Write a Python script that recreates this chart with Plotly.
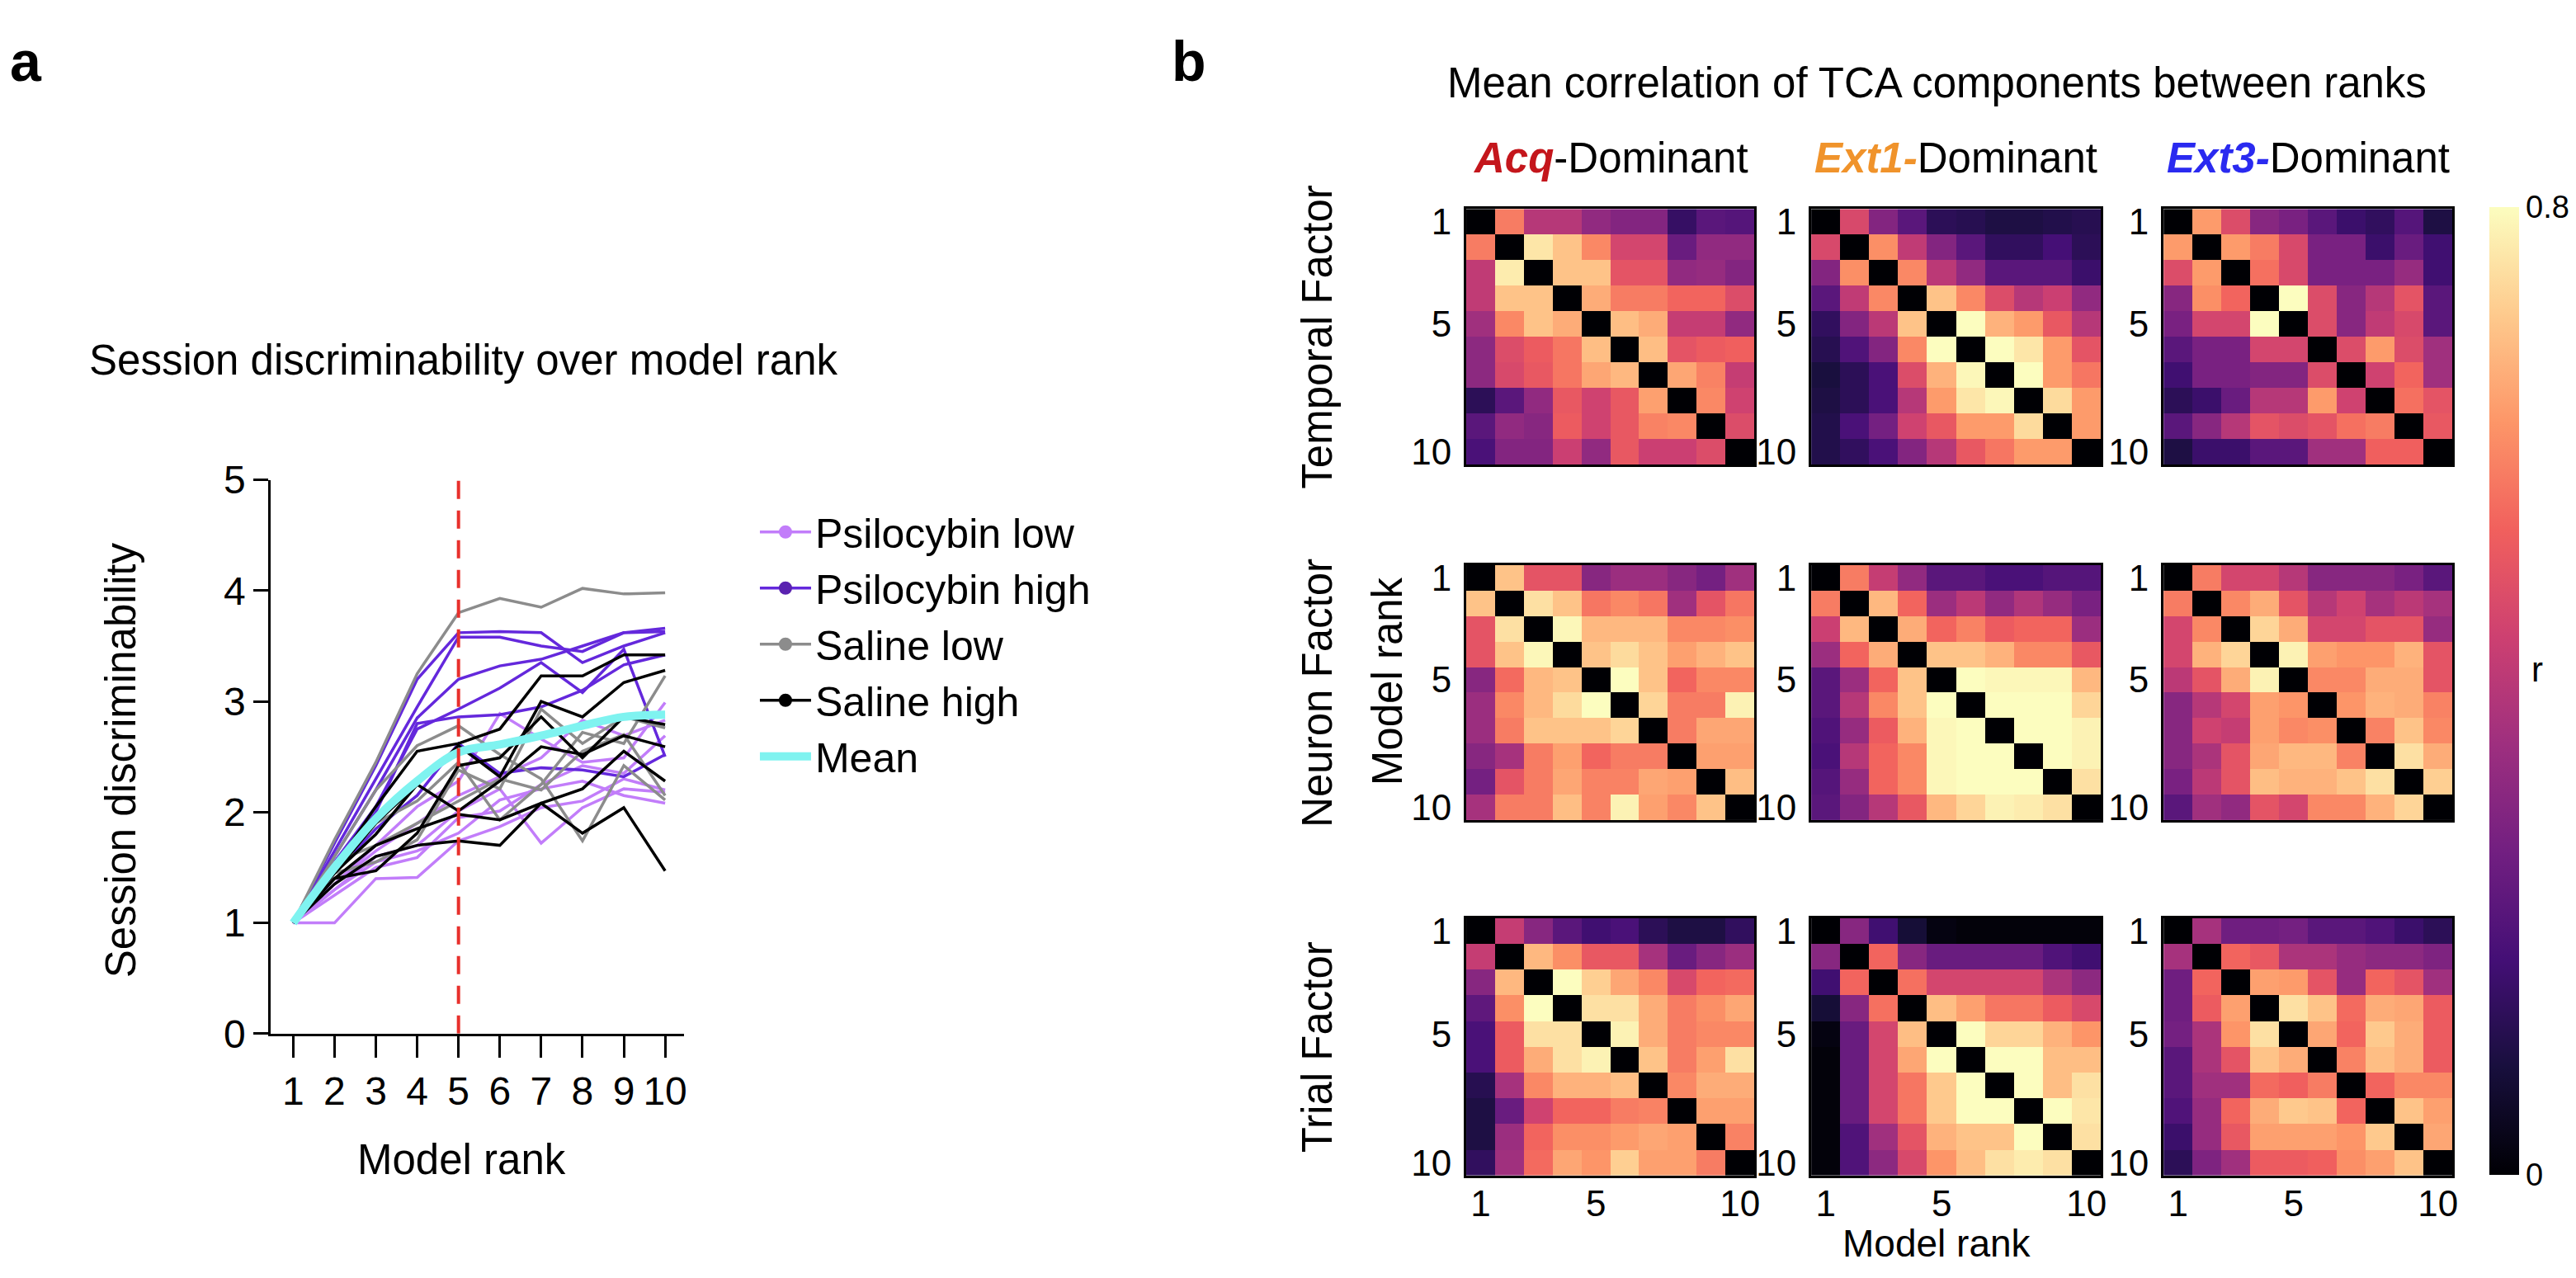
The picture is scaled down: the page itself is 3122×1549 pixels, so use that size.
import plotly.graph_objects as go

W, H = 3122, 1549
FONT = "Liberation Sans, Arial, sans-serif"

# ---------------- Panel a data ----------------
ranks = [1, 2, 3, 4, 5, 6, 7, 8, 9, 10]
cutoff_rank = 5

psilocybin_low = [
    [1, 1.00, 1.40, 1.41, 1.74, 1.87, 2.04, 2.10, 2.30, 2.20],
    [1, 1.30, 1.60, 1.70, 2.01, 2.21, 1.72, 2.04, 2.21, 2.18],
    [1, 1.35, 1.70, 2.05, 2.28, 2.89, 2.66, 2.45, 2.49, 2.99],
    [1, 1.30, 1.55, 1.65, 1.81, 2.11, 2.21, 2.28, 2.15, 2.08],
    [1, 1.25, 1.50, 1.59, 1.95, 2.01, 2.25, 2.42, 2.35, 2.69],
    [1, 1.35, 1.65, 1.90, 2.15, 2.32, 2.49, 2.83, 2.69, 2.83],
]
psilocybin_high = [
    [1, 1.72, 2.42, 3.20, 3.62, 3.63, 3.62, 3.35, 3.50, 3.62],
    [1, 1.65, 2.30, 2.95, 3.58, 3.58, 3.50, 3.45, 3.62, 3.66],
    [1, 1.60, 2.20, 2.85, 3.20, 3.32, 3.38, 3.50, 3.62, 3.63],
    [1, 1.55, 2.05, 2.75, 2.93, 3.12, 3.35, 3.08, 3.47, 2.50],
    [1, 1.50, 2.00, 2.80, 2.86, 2.88, 2.95, 3.10, 3.33, 3.42],
    [1, 1.45, 1.85, 2.15, 2.62, 2.35, 2.40, 2.38, 2.32, 2.52],
]
saline_low = [
    [1, 1.75, 2.45, 3.25, 3.80, 3.93, 3.85, 4.02, 3.97, 3.98],
    [1, 1.60, 2.20, 2.60, 2.78, 2.52, 2.30, 1.74, 2.42, 2.11],
    [1, 1.50, 1.90, 2.10, 2.45, 1.93, 2.25, 2.72, 2.62, 3.23],
    [1, 1.45, 1.55, 1.75, 2.38, 2.21, 2.93, 2.62, 2.86, 2.76],
    [1, 1.55, 1.70, 1.90, 2.10, 2.30, 2.20, 2.55, 2.70, 2.15],
]
saline_high = [
    [1, 1.50, 2.05, 2.55, 2.62, 2.75, 3.23, 3.23, 3.42, 3.42],
    [1, 1.45, 1.90, 2.25, 2.60, 2.32, 3.00, 2.86, 3.17, 3.28],
    [1, 1.40, 1.70, 1.85, 1.98, 1.93, 2.08, 1.81, 2.04, 1.47],
    [1, 1.35, 1.60, 1.70, 1.74, 1.70, 2.08, 2.21, 2.55, 2.28],
    [1, 1.45, 1.80, 2.25, 2.01, 2.28, 2.59, 2.52, 2.69, 2.59],
    [1, 1.40, 1.47, 1.81, 2.42, 2.49, 2.86, 2.49, 2.86, 2.79],
]
mean_curve = [1.00, 1.50, 1.94, 2.28, 2.54, 2.61, 2.69, 2.78, 2.86, 2.88]

group_names = ["Psilocybin low", "Psilocybin high", "Saline low", "Saline high"]
group_line_colors = ["#c27dfa", "#6428dc", "#8c8c8c", "#000000"]
group_marker_colors = ["#c27dfa", "#5a22b0", "#8c8c8c", "#000000"]
group_series = [psilocybin_low, psilocybin_high, saline_low, saline_high]
y_ticks_a = [0, 1, 2, 3, 4, 5]

# ---------------- Panel b data ----------------
factor_names = ["Temporal Factor", "Neuron Factor", "Trial Factor"]
condition_names = ["Acq", "Ext1", "Ext3"]
heat_ticks = [1, 5, 10]

temporal_acq = [
    [0.00, 0.58, 0.40, 0.40, 0.33, 0.30, 0.30, 0.15, 0.22, 0.21],
    [0.58, 0.00, 0.76, 0.70, 0.60, 0.46, 0.46, 0.25, 0.33, 0.33],
    [0.42, 0.77, 0.00, 0.70, 0.70, 0.50, 0.50, 0.33, 0.34, 0.30],
    [0.42, 0.70, 0.70, 0.00, 0.66, 0.58, 0.58, 0.54, 0.54, 0.48],
    [0.36, 0.60, 0.70, 0.66, 0.00, 0.69, 0.66, 0.43, 0.43, 0.33],
    [0.32, 0.48, 0.52, 0.57, 0.69, 0.00, 0.69, 0.50, 0.52, 0.53],
    [0.32, 0.47, 0.51, 0.57, 0.65, 0.68, 0.00, 0.65, 0.59, 0.43],
    [0.13, 0.22, 0.33, 0.51, 0.45, 0.51, 0.64, 0.00, 0.60, 0.45],
    [0.22, 0.33, 0.31, 0.52, 0.45, 0.51, 0.59, 0.60, 0.00, 0.48],
    [0.19, 0.30, 0.30, 0.44, 0.33, 0.51, 0.44, 0.44, 0.48, 0.00],
]
temporal_ext1 = [
    [0.00, 0.47, 0.30, 0.22, 0.13, 0.12, 0.10, 0.10, 0.11, 0.12],
    [0.47, 0.00, 0.61, 0.42, 0.30, 0.22, 0.14, 0.14, 0.18, 0.13],
    [0.30, 0.61, 0.00, 0.60, 0.41, 0.33, 0.22, 0.22, 0.22, 0.16],
    [0.22, 0.42, 0.60, 0.00, 0.70, 0.60, 0.48, 0.40, 0.44, 0.33],
    [0.14, 0.30, 0.41, 0.70, 0.00, 0.80, 0.67, 0.63, 0.51, 0.40],
    [0.12, 0.20, 0.30, 0.60, 0.80, 0.00, 0.80, 0.76, 0.63, 0.50],
    [0.09, 0.13, 0.19, 0.48, 0.67, 0.79, 0.00, 0.80, 0.63, 0.57],
    [0.10, 0.13, 0.19, 0.40, 0.63, 0.76, 0.79, 0.00, 0.74, 0.63],
    [0.11, 0.19, 0.27, 0.45, 0.51, 0.63, 0.63, 0.74, 0.00, 0.63],
    [0.11, 0.14, 0.19, 0.30, 0.40, 0.51, 0.57, 0.63, 0.63, 0.00],
]
temporal_ext3 = [
    [0.00, 0.63, 0.48, 0.31, 0.28, 0.22, 0.16, 0.14, 0.21, 0.10],
    [0.63, 0.00, 0.63, 0.58, 0.47, 0.28, 0.28, 0.16, 0.25, 0.17],
    [0.48, 0.63, 0.00, 0.56, 0.47, 0.28, 0.28, 0.28, 0.34, 0.17],
    [0.31, 0.61, 0.54, 0.00, 0.80, 0.48, 0.31, 0.40, 0.50, 0.22],
    [0.28, 0.46, 0.46, 0.80, 0.00, 0.48, 0.31, 0.42, 0.47, 0.22],
    [0.22, 0.28, 0.28, 0.46, 0.46, 0.00, 0.48, 0.63, 0.48, 0.36],
    [0.17, 0.28, 0.28, 0.30, 0.30, 0.48, 0.00, 0.45, 0.54, 0.36],
    [0.13, 0.16, 0.25, 0.40, 0.40, 0.63, 0.45, 0.00, 0.56, 0.50],
    [0.22, 0.31, 0.40, 0.50, 0.48, 0.50, 0.56, 0.58, 0.00, 0.51],
    [0.10, 0.16, 0.16, 0.22, 0.22, 0.36, 0.36, 0.53, 0.53, 0.00],
]
neuron_acq = [
    [0.00, 0.70, 0.50, 0.50, 0.31, 0.35, 0.35, 0.31, 0.27, 0.36],
    [0.70, 0.00, 0.75, 0.70, 0.57, 0.60, 0.57, 0.36, 0.50, 0.57],
    [0.50, 0.75, 0.00, 0.79, 0.68, 0.68, 0.68, 0.60, 0.60, 0.61],
    [0.50, 0.70, 0.79, 0.00, 0.70, 0.74, 0.70, 0.64, 0.67, 0.70],
    [0.31, 0.55, 0.68, 0.70, 0.00, 0.80, 0.70, 0.54, 0.60, 0.60],
    [0.35, 0.60, 0.68, 0.74, 0.80, 0.00, 0.73, 0.58, 0.58, 0.78],
    [0.35, 0.58, 0.70, 0.70, 0.70, 0.73, 0.00, 0.58, 0.65, 0.65],
    [0.31, 0.37, 0.58, 0.64, 0.54, 0.58, 0.58, 0.00, 0.64, 0.64],
    [0.27, 0.50, 0.58, 0.65, 0.59, 0.59, 0.65, 0.64, 0.00, 0.69],
    [0.37, 0.58, 0.58, 0.69, 0.59, 0.78, 0.64, 0.60, 0.70, 0.00],
]
neuron_ext1 = [
    [0.00, 0.58, 0.43, 0.33, 0.22, 0.22, 0.19, 0.19, 0.21, 0.21],
    [0.58, 0.00, 0.68, 0.54, 0.35, 0.41, 0.33, 0.39, 0.34, 0.28],
    [0.44, 0.68, 0.00, 0.66, 0.54, 0.59, 0.52, 0.54, 0.54, 0.35],
    [0.35, 0.54, 0.66, 0.00, 0.70, 0.70, 0.67, 0.60, 0.60, 0.51],
    [0.22, 0.35, 0.54, 0.70, 0.00, 0.80, 0.79, 0.79, 0.79, 0.68],
    [0.22, 0.40, 0.60, 0.70, 0.80, 0.00, 0.80, 0.80, 0.80, 0.73],
    [0.20, 0.34, 0.52, 0.67, 0.79, 0.80, 0.00, 0.80, 0.80, 0.78],
    [0.19, 0.40, 0.54, 0.60, 0.79, 0.80, 0.80, 0.00, 0.80, 0.78],
    [0.21, 0.34, 0.54, 0.60, 0.79, 0.80, 0.80, 0.80, 0.00, 0.75],
    [0.22, 0.30, 0.40, 0.51, 0.68, 0.73, 0.78, 0.77, 0.75, 0.00],
]
neuron_ext3 = [
    [0.00, 0.58, 0.46, 0.46, 0.40, 0.31, 0.31, 0.31, 0.28, 0.22],
    [0.58, 0.00, 0.60, 0.66, 0.50, 0.40, 0.45, 0.37, 0.41, 0.37],
    [0.46, 0.60, 0.00, 0.73, 0.66, 0.46, 0.46, 0.50, 0.50, 0.34],
    [0.46, 0.67, 0.73, 0.00, 0.78, 0.64, 0.62, 0.62, 0.67, 0.50],
    [0.41, 0.50, 0.66, 0.78, 0.00, 0.60, 0.60, 0.66, 0.66, 0.50],
    [0.31, 0.40, 0.46, 0.64, 0.62, 0.00, 0.62, 0.67, 0.66, 0.59],
    [0.31, 0.45, 0.43, 0.64, 0.60, 0.61, 0.00, 0.59, 0.70, 0.60],
    [0.31, 0.38, 0.50, 0.65, 0.68, 0.68, 0.59, 0.00, 0.75, 0.66],
    [0.28, 0.41, 0.50, 0.69, 0.67, 0.67, 0.70, 0.75, 0.00, 0.72],
    [0.22, 0.36, 0.33, 0.50, 0.46, 0.60, 0.60, 0.67, 0.73, 0.00],
]
trial_acq = [
    [0.00, 0.43, 0.31, 0.22, 0.17, 0.19, 0.13, 0.10, 0.10, 0.14],
    [0.43, 0.00, 0.68, 0.61, 0.51, 0.51, 0.37, 0.25, 0.31, 0.35],
    [0.31, 0.68, 0.00, 0.80, 0.72, 0.65, 0.60, 0.47, 0.54, 0.55],
    [0.23, 0.61, 0.80, 0.00, 0.75, 0.75, 0.66, 0.58, 0.61, 0.65],
    [0.19, 0.52, 0.75, 0.75, 0.00, 0.78, 0.66, 0.58, 0.60, 0.60],
    [0.19, 0.52, 0.66, 0.75, 0.78, 0.00, 0.70, 0.58, 0.64, 0.75],
    [0.12, 0.37, 0.60, 0.67, 0.67, 0.69, 0.00, 0.60, 0.66, 0.66],
    [0.10, 0.25, 0.45, 0.54, 0.54, 0.58, 0.59, 0.00, 0.64, 0.64],
    [0.10, 0.35, 0.54, 0.61, 0.61, 0.63, 0.65, 0.64, 0.00, 0.59],
    [0.14, 0.36, 0.55, 0.65, 0.62, 0.72, 0.64, 0.64, 0.58, 0.00],
]
trial_ext1 = [
    [0.00, 0.31, 0.17, 0.08, 0.02, 0.01, 0.01, 0.01, 0.01, 0.01],
    [0.31, 0.00, 0.54, 0.31, 0.25, 0.25, 0.25, 0.25, 0.20, 0.17],
    [0.17, 0.54, 0.00, 0.56, 0.46, 0.46, 0.46, 0.46, 0.38, 0.32],
    [0.08, 0.31, 0.56, 0.00, 0.69, 0.64, 0.57, 0.57, 0.52, 0.47],
    [0.02, 0.25, 0.46, 0.69, 0.00, 0.80, 0.73, 0.73, 0.67, 0.62],
    [0.01, 0.25, 0.46, 0.65, 0.80, 0.00, 0.80, 0.80, 0.69, 0.69],
    [0.01, 0.25, 0.46, 0.57, 0.71, 0.80, 0.00, 0.80, 0.69, 0.75],
    [0.01, 0.25, 0.46, 0.57, 0.71, 0.80, 0.80, 0.00, 0.80, 0.76],
    [0.01, 0.20, 0.36, 0.50, 0.67, 0.70, 0.70, 0.80, 0.00, 0.75],
    [0.01, 0.20, 0.32, 0.47, 0.62, 0.69, 0.75, 0.77, 0.75, 0.00],
]
trial_ext3 = [
    [0.00, 0.37, 0.26, 0.26, 0.27, 0.22, 0.22, 0.20, 0.16, 0.13],
    [0.37, 0.00, 0.54, 0.51, 0.38, 0.38, 0.34, 0.32, 0.32, 0.29],
    [0.26, 0.54, 0.00, 0.64, 0.63, 0.50, 0.34, 0.54, 0.50, 0.36],
    [0.26, 0.52, 0.64, 0.00, 0.75, 0.70, 0.55, 0.66, 0.65, 0.52],
    [0.27, 0.38, 0.62, 0.75, 0.00, 0.65, 0.54, 0.71, 0.66, 0.52],
    [0.22, 0.38, 0.50, 0.70, 0.66, 0.00, 0.59, 0.69, 0.66, 0.52],
    [0.22, 0.36, 0.36, 0.55, 0.53, 0.58, 0.00, 0.54, 0.60, 0.60],
    [0.20, 0.34, 0.54, 0.66, 0.71, 0.70, 0.54, 0.00, 0.70, 0.64],
    [0.16, 0.34, 0.51, 0.64, 0.64, 0.64, 0.62, 0.71, 0.00, 0.65],
    [0.13, 0.29, 0.36, 0.52, 0.52, 0.53, 0.61, 0.64, 0.70, 0.00],
]
heat_matrices = [
    [temporal_acq, temporal_ext1, temporal_ext3],
    [neuron_acq, neuron_ext1, neuron_ext3],
    [trial_acq, trial_ext1, trial_ext3],
]
r_min, r_max = 0.0, 0.8

# ---------------- helpers ----------------
def px(x):
    return x / W

def py(y):
    return 1 - y / H

fig = go.Figure()

# ---------------- Panel a ----------------
for name, color, series in zip(group_names, group_line_colors, group_series):
    for vals in series:
        fig.add_trace(go.Scatter(
            x=ranks, y=vals, mode="lines",
            line=dict(color=color, width=3.5),
            showlegend=False, hoverinfo="skip", legendgroup=name,
            xaxis="x", yaxis="y"))
fig.add_trace(go.Scatter(
    x=ranks, y=mean_curve, mode="lines",
    line=dict(color="#7ff3f0", width=10, shape="spline"),
    showlegend=False, legendgroup="Mean", xaxis="x", yaxis="y"))

# legend entries
for name, lc, mc in zip(group_names, group_line_colors, group_marker_colors):
    fig.add_trace(go.Scatter(
        x=[None], y=[None], mode="lines+markers", name=name,
        legendgroup=name,
        line=dict(color=lc, width=3.5),
        marker=dict(color=mc, size=17),
        xaxis="x", yaxis="y"))
fig.add_trace(go.Scatter(
    x=[None], y=[None], mode="lines", name="Mean", legendgroup="Mean",
    line=dict(color="#7ff3f0", width=11),
    xaxis="x", yaxis="y"))

# ---------------- Panel b heatmaps ----------------
col_px = [(1773, 2123), (2192, 2544), (2620, 2971)]
row_px = [(227, 548), (674, 994), (1117, 1440)]

layout_axes = {}
for r in range(3):
    for c in range(3):
        k = 2 + r * 3 + c
        fig.add_trace(go.Heatmap(
            z=heat_matrices[r][c], x=ranks, y=ranks,
            coloraxis="coloraxis", xaxis=f"x{k}", yaxis=f"y{k}",
            hovertemplate="row %{y}, col %{x}: r=%{z}<extra></extra>"))
        layout_axes[f"xaxis{k}"] = dict(
            domain=[px(col_px[c][0]), px(col_px[c][1])],
            range=[0.5, 10.5], anchor=f"y{k}",
            tickvals=heat_ticks, ticks="", showticklabels=(r == 2),
            ticklabelstandoff=-7,
            tickfont=dict(size=44, family=FONT, color="black"),
            showline=True, mirror=True, linecolor="black", linewidth=3,
            showgrid=False, zeroline=False, tickangle=0)
        layout_axes[f"yaxis{k}"] = dict(
            domain=[py(row_px[r][1]), py(row_px[r][0])],
            range=[10.5, 0.5], anchor=f"x{k}",
            tickvals=heat_ticks, ticks="", showticklabels=True,
            ticklabelstandoff=6,
            tickfont=dict(size=44, family=FONT, color="black"),
            showline=True, mirror=True, linecolor="black", linewidth=3,
            showgrid=False, zeroline=False)

# ---------------- annotations ----------------
def ann(text, x, y, size=51, angle=0, xanchor="center", yanchor="middle"):
    return dict(text=text, x=px(x), y=py(y), xref="paper", yref="paper",
                showarrow=False, textangle=angle, xanchor=xanchor,
                yanchor=yanchor, font=dict(size=size, family=FONT, color="black"))

annotations = [
    ann("<b>a</b>", 2, 0, size=68, xanchor="left", yanchor="top"),
    ann("<b>b</b>", 1413, 0, size=68, xanchor="left", yanchor="top"),
    ann("Session discriminability over model rank", 555, 417),
    ann("Session discriminability", 139, 919, angle=-90),
    ann("Model rank", 553, 1420),
    ann("Mean correlation of TCA components between ranks", 2345, 69),
    ann("Model rank", 1678, 820, angle=-90),
    ann("Model rank", 2345, 1525, size=46),
    ann("r", 3074, 805, size=42),
]
cond_colors = ["#c4161c", "#f0932b", "#2a2af0"]
cond_titles = [
    f"<b><i><span style='color:{cond_colors[0]}'>{condition_names[0]}</span></i></b>-Dominant",
    f"<b><i><span style='color:{cond_colors[1]}'>{condition_names[1]}-</span></i></b>Dominant",
    f"<b><i><span style='color:{cond_colors[2]}'>{condition_names[2]}-</span></i></b>Dominant",
]
for c in range(3):
    annotations.append(ann(cond_titles[c], (col_px[c][0] + col_px[c][1]) / 2, 163))
for r in range(3):
    annotations.append(ann(factor_names[r], 1592, (row_px[r][0] + row_px[r][1]) / 2, angle=-90))

# ---------------- layout ----------------
fig.update_layout(
    width=W, height=H, autosize=False,
    margin=dict(l=0, r=0, t=0, b=0),
    paper_bgcolor="white", plot_bgcolor="white",
    font=dict(family=FONT, size=48, color="black"),
    xaxis=dict(
        domain=[px(321), px(823)], range=[0.46, 10.46], anchor="y",
        tickvals=ranks, ticks="outside", ticklen=26, tickwidth=3,
        tickcolor="black", showline=True, linecolor="black", linewidth=3,
        tickfont=dict(size=48, family=FONT, color="black"), tickangle=0,
        showgrid=False, zeroline=False),
    yaxis=dict(
        domain=[py(1262), py(567)], range=[0, 5], anchor="x",
        tickvals=y_ticks_a, ticks="outside", ticklen=18, tickwidth=3,
        tickcolor="black", showline=True, linecolor="black", linewidth=3,
        tickfont=dict(size=48, family=FONT, color="black"),
        showgrid=False, zeroline=False),
    coloraxis=dict(
        colorscale="Magma", cmin=r_min, cmax=r_max,
        colorbar=dict(
            x=px(3016), xanchor="left", xpad=0, ypad=0,
            y=py(832), yanchor="middle",
            len=(1440 - 225) / H, lenmode="fraction",
            thickness=36, thicknessmode="pixels",
            tickvals=[r_min, r_max], ticktext=["0", "0.8"],
            ticks="", outlinewidth=0,
            tickfont=dict(size=38, family=FONT, color="black"))),
    legend=dict(
        x=px(910), y=py(592), xanchor="left", yanchor="top",
        font=dict(size=50, family=FONT, color="black"),
        itemwidth=62, bgcolor="rgba(0,0,0,0)", tracegroupgap=0,
        traceorder="grouped"),
    shapes=[dict(
        type="line", xref="x", yref="y",
        x0=cutoff_rank, x1=cutoff_rank, y0=0, y1=5,
        line=dict(color="#e8302c", width=4, dash="22px,14px"))],
    annotations=annotations,
    **layout_axes,
)

fig.write_html("out.html")
